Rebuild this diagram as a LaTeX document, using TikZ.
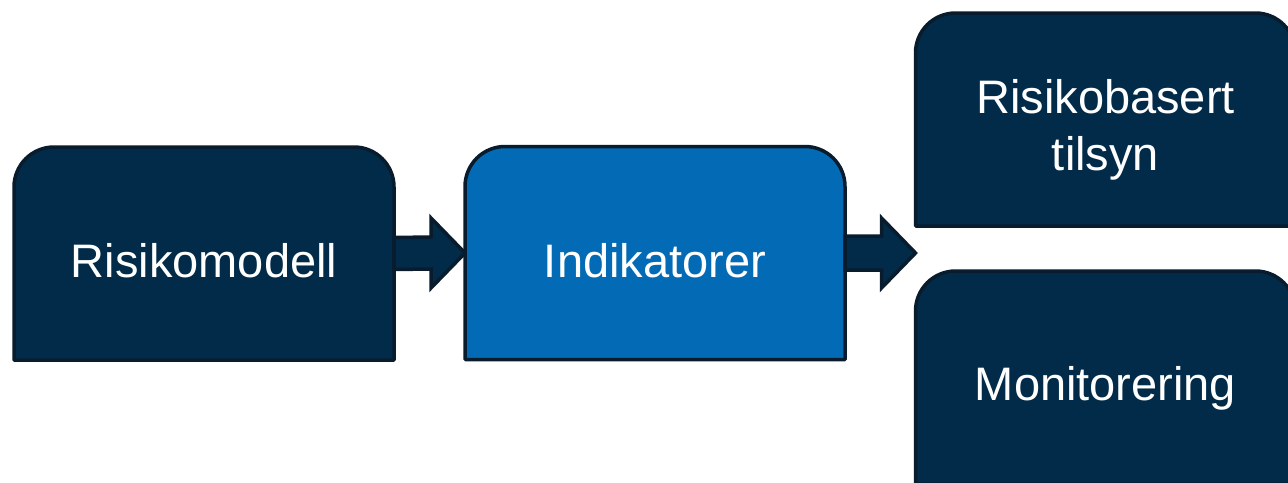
\documentclass[tikz,border=0pt]{standalone}
\usepackage{fontspec}
\setmainfont{Liberation Sans}
\usetikzlibrary{calc,backgrounds}

\definecolor{navy}{HTML}{012B48}
\definecolor{edgeline}{HTML}{081C2E}
\definecolor{brightblue}{HTML}{036BB5}

\tikzset{
  boxnode/.style={rectangle, minimum width=380pt, minimum height=213pt,
    inner sep=0pt, outer sep=0pt, draw=none},
  boxtext/.style={text=white, font=\fontsize{47}{57}\selectfont,
    align=center, inner sep=0pt},
  tabfill/.style={fill=#1, draw=edgeline, line width=3.5pt, line join=round},
  blockarrow/.style={fill=navy, draw=edgeline, line width=3.5pt, line join=miter},
}

% box with rounded top corners and square bottom corners, drawn from a node's anchors
\newcommand\tabshape[2]{%
  \draw[tabfill=#2] (#1.south west)
    -- ([yshift=-40pt]#1.north west) arc[start angle=180, end angle=90, radius=40pt]
    -- ([xshift=-40pt]#1.north east) arc[start angle=90, end angle=0, radius=40pt]
    -- (#1.south east) -- cycle;}

\begin{document}
\begin{tikzpicture}[x=1pt, y=1pt]
  \useasboundingbox (0,0) rectangle (1288,-482);
  \clip (0,0) rectangle (1288,-482);

  % box outlines (positions only)
  \node[boxnode] (model)   at (204,-253.5)   {};
  \node[boxnode] (ind)     at (655,-253)     {};
  \node[boxnode] (tilsyn)  at (1105.5,-119.5) {};
  \node[boxnode] (monitor) at (1105.5,-377.5) {};

  \tabshape{model}{navy}
  \tabshape{ind}{brightblue}
  \tabshape{tilsyn}{navy}
  \tabshape{monitor}{navy}

  % labels
  \node[boxtext, anchor=base] (model-text) at ($(model.center)+(0,-23.5)$) {Risikomodell};
  \node[boxtext, anchor=base] (ind-text) at ($(ind.center)+(0,-24)$) {Indikatorer};
  \node[boxtext] (tilsyn-text) at ($(tilsyn.center)+(0,-10)$) {Risikobasert\\tilsyn};
  \node[boxtext, anchor=base] (monitor-text) at ($(monitor.center)+(0,-22.5)$) {Monitorering};

  % block arrows between the stages
  \coordinate (split) at (tilsyn.west |- ind.east);

  \draw[blockarrow] ($(model.east)+(0,16)$) -- ($(ind.west)+(-34,16)$)
    -- ($(ind.west)+(-34,35)$) -- (ind.west) -- ($(ind.west)+(-34,-35)$)
    -- ($(ind.west)+(-34,-16)$) -- ($(model.east)+(0,-16)$) -- cycle;

  \draw[blockarrow] ($(ind.east)+(0,17)$) -- ($(split)+(-34,17)$)
    -- ($(split)+(-34,35)$) -- (split) -- ($(split)+(-34,-35)$)
    -- ($(split)+(-34,-17)$) -- ($(ind.east)+(0,-17)$) -- cycle;
\end{tikzpicture}
\end{document}
